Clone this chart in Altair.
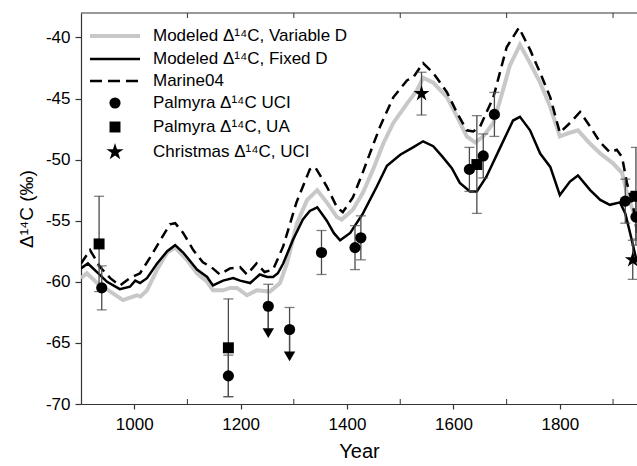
import altair as alt
import pandas as pd

# ---------------- data ----------------
fixed_years = [900, 913, 930, 949, 973, 992, 1002, 1011, 1024, 1043, 1062, 1077, 1092, 1118, 1137,
               1148, 1167, 1186, 1199, 1218, 1236, 1250, 1261, 1270, 1280, 1298, 1317, 1330, 1344,
               1362, 1375, 1387, 1406, 1430, 1456, 1475, 1500, 1524, 1543, 1562, 1580, 1597, 1612,
               1631, 1644, 1662, 1688, 1712, 1725, 1744, 1763, 1782, 1800, 1819, 1834, 1857, 1876,
               1894, 1913, 1923, 1932, 1945]
fixed_vals = [-58.9, -58.5, -59.2, -60.0, -60.6, -60.4, -59.9, -60.1, -59.7, -58.5, -57.5, -57.0, -57.6,
              -59.0, -59.6, -60.3, -59.9, -59.7, -59.9, -60.1, -59.4, -59.6, -59.6, -59.3, -58.5, -56.6,
              -54.9, -54.2, -53.9, -55.0, -56.0, -56.6, -56.0, -54.4, -52.2, -50.5, -49.6, -49.0, -48.5,
              -48.9, -49.8, -50.7, -51.9, -52.6, -52.6, -51.4, -49.0, -46.8, -46.5, -47.6, -49.5, -50.6,
              -52.9, -51.8, -51.3, -52.5, -53.3, -53.7, -53.5, -54.4, -56.0, -58.4]

var_years = [900, 911, 930, 955, 979, 992, 1005, 1012, 1024, 1043, 1062, 1077, 1099, 1118, 1137, 1148,
             1167, 1180, 1193, 1212, 1230, 1255, 1274, 1287, 1306, 1325, 1344, 1362, 1381, 1390, 1411,
             1430, 1449, 1468, 1487, 1513, 1532, 1543, 1562, 1588, 1607, 1625, 1641, 1656, 1675, 1688,
             1706, 1725, 1744, 1763, 1782, 1800, 1819, 1834, 1857, 1876, 1900, 1917, 1928, 1945]
var_vals = [-59.7, -59.3, -60.1, -60.8, -61.5, -61.3, -61.1, -61.2, -60.7, -59.0, -57.6, -57.2, -58.2,
            -59.3, -60.0, -60.7, -60.7, -60.5, -60.5, -61.1, -60.7, -60.8, -60.1, -58.5, -55.2, -53.3,
            -52.5, -53.5, -54.7, -54.9, -54.1, -52.7, -50.8, -48.7, -47.0, -45.4, -44.3, -43.3, -43.7,
            -44.9, -46.5, -48.1, -48.6, -48.1, -47.0, -45.1, -42.3, -40.6, -42.1, -43.7, -45.7, -48.1,
            -47.8, -47.6, -48.7, -49.5, -50.3, -51.1, -53.1, -55.0]

marine_years = [900, 917, 936, 955, 973, 992, 1011, 1030, 1049, 1067, 1077, 1092, 1111, 1129, 1145,
                1161, 1180, 1199, 1212, 1230, 1245, 1261, 1280, 1305, 1330, 1340, 1362, 1381, 1392,
                1411, 1430, 1449, 1462, 1487, 1513, 1524, 1543, 1562, 1588, 1607, 1625, 1637, 1650,
                1675, 1700, 1723, 1744, 1763, 1782, 1800, 1819, 1838, 1857, 1876, 1894, 1907, 1917,
                1926, 1938, 1945]
marine_vals = [-58.5, -57.4, -58.8, -59.7, -60.3, -59.7, -59.3, -58.0, -56.6, -55.3, -55.2, -56.0,
               -57.4, -58.4, -58.8, -59.4, -58.9, -58.8, -59.4, -58.5, -59.2, -59.0, -57.1, -53.5,
               -50.8, -50.6, -52.2, -53.9, -54.3, -53.1, -51.0, -48.8, -47.3, -44.9, -43.5, -43.3,
               -42.1, -42.9, -44.5, -46.2, -47.6, -47.7, -47.3, -44.9, -40.8, -39.2, -41.0, -42.9,
               -44.9, -47.8, -47.0, -46.1, -47.3, -48.6, -49.4, -49.2, -49.8, -51.9, -53.9, -56.0]

uci_years = [939, 1177, 1252, 1292, 1352, 1415, 1426, 1630, 1656, 1677, 1923, 1943]
uci_vals = [-60.5, -67.7, -62.0, -63.9, -57.6, -57.2, -56.4, -50.8, -49.7, -46.3, -53.4, -54.7]
uci_errs = [1.8, 1.7, 1.8, 1.8, 1.8, 1.8, 1.8, 1.8, 1.8, 1.8, 1.8, 1.8]

ua_years = [934, 1177, 1644, 1943]
ua_vals = [-56.9, -65.4, -50.4, -53.0]
ua_errs = [3.9, 4.0, 4.0, 4.0]

xmas_years = [1540, 1937]
xmas_vals = [-44.6, -58.2]
xmas_errs = [1.75, 1.6]

# upper-limit arrows (Palmyra UCI)
limit_years = [1252, 1292]
limit_from = [-62.0, -63.9]
limit_tips = [-64.2, -66.1]

x_label_values = [1000, 1200, 1400, 1600, 1800]
minor_years = [1100, 1300, 1500, 1700, 1900]
y_label_values = [-70, -65, -60, -55, -50, -45, -40]
x_domain = [900, 1945]
y_domain = [-70, -38]

legend_labels = ["Modeled \u0394\u00b9\u2074C, Variable D",
                 "Modeled \u0394\u00b9\u2074C, Fixed D",
                 "Marine04",
                 "Palmyra \u0394\u00b9\u2074C UCI",
                 "Palmyra \u0394\u00b9\u2074C, UA",
                 "Christmas \u0394\u00b9\u2074C, UCI"]

# ---------------- chart ----------------
FONT = "Liberation Sans"
W, H = 556, 391
GREY = "#c8c8c8"
ERR = "#4a4a4a"
# five-pointed star as a custom symbol path (unit box -1..1)
STAR = ("M0,-1L0.225,-0.309L0.951,-0.309L0.363,0.118L0.588,0.809L0,0.382"
        "L-0.588,0.809L-0.363,0.118L-0.951,-0.309L-0.225,-0.309Z")

xscale = alt.Scale(domain=x_domain, nice=False, zero=False)
yscale = alt.Scale(domain=y_domain, nice=False, zero=False)

x_axis = alt.Axis(orient="bottom", values=x_label_values, title="Year", format="d", tickSize=5,
                  labelFontSize=17, titleFontSize=20, labelPadding=7, titlePadding=9,
                  grid=False, domainColor="#333", tickColor="#333", labelColor="black",
                  titleColor="black", titleFontWeight="normal", labelFont=FONT, titleFont=FONT)
y_axis = alt.Axis(orient="left", values=y_label_values, title="\u0394\u00b9\u2074C (\u2030)",
                  tickSize=6, labelExpr="'' + datum.value", labelFontSize=17, titleFontSize=19,
                  labelPadding=5, titlePadding=9, grid=False, domainColor="#333",
                  tickColor="#333", labelColor="black", titleColor="black",
                  titleFontWeight="normal", labelFont=FONT, titleFont=FONT)

X = alt.X("year:Q", scale=xscale, axis=x_axis)
Y = alt.Y("val:Q", scale=yscale, axis=y_axis)


def ycol(name):
    return alt.Y(name, type="quantitative", scale=yscale, axis=y_axis)


def ldf(years, vals):
    return pd.DataFrame({"year": years, "val": vals})


def pdf(years, vals, errs):
    d = pd.DataFrame({"year": years, "val": vals, "err": errs})
    d["lo"] = d["val"] - d["err"]
    d["hi"] = d["val"] + d["err"]
    return d


var_line = alt.Chart(ldf(var_years, var_vals)).mark_line(
    color=GREY, strokeWidth=4, clip=True).encode(x=X, y=Y)
fixed_line = alt.Chart(ldf(fixed_years, fixed_vals)).mark_line(
    color="black", strokeWidth=2.5, clip=True).encode(x=X, y=Y)
marine_line = alt.Chart(ldf(marine_years, marine_vals)).mark_line(
    color="black", strokeWidth=2.5, strokeDash=[10, 6], clip=True).encode(x=X, y=Y)

uci = pdf(uci_years, uci_vals, uci_errs)
ua = pdf(ua_years, ua_vals, ua_errs)
xm = pdf(xmas_years, xmas_vals, xmas_errs)
limits = pd.DataFrame({"year": limit_years, "val": limit_from, "tip": limit_tips})
uci_caps_lo = uci[~uci["year"].isin(limit_years)]


def errbars(d, caps_lo=None):
    r = alt.Chart(d).mark_rule(color=ERR, strokeWidth=1.3, clip=True).encode(
        x=X, y=ycol("lo"), y2="hi:Q")
    top = alt.Chart(d).mark_tick(color=ERR, orient="horizontal", size=10, thickness=1.3,
                                 clip=True).encode(x=X, y=ycol("hi"))
    bot = alt.Chart(d if caps_lo is None else caps_lo).mark_tick(
        color=ERR, orient="horizontal", size=10, thickness=1.3, clip=True).encode(
        x=X, y=ycol("lo"))
    return [r, top, bot]


limit_rule = alt.Chart(limits).mark_rule(color=ERR, strokeWidth=1.3).encode(
    x=X, y=Y, y2="tip:Q")
limit_tri = alt.Chart(limits).mark_point(shape="triangle-down", filled=True, size=130,
                                         color="black", opacity=1).encode(x=X, y=ycol("tip"))

uci_pts = alt.Chart(uci).mark_point(shape="circle", filled=True, size=125, color="black",
                                    opacity=1, clip=True).encode(x=X, y=Y)
ua_pts = alt.Chart(ua).mark_point(shape="square", filled=True, size=120, color="black",
                                  opacity=1, clip=True).encode(x=X, y=Y)
xm_pts = alt.Chart(xm).mark_point(shape=STAR, filled=True, size=280, color="black",
                                  opacity=1, clip=True).encode(x=X, y=Y)

# frame: top line and inner minor ticks
frame_df = pd.DataFrame({"year": [x_domain[0]], "year2": [x_domain[1]]})
top_line = alt.Chart(frame_df).mark_rule(color="#333", strokeWidth=1.2).encode(
    x=X, x2="year2:Q", y=alt.value(0))
minor = pd.DataFrame({"year": minor_years})
minor_top = alt.Chart(minor).mark_rule(color="#333", strokeWidth=1).encode(
    x=X, y=alt.value(0), y2=alt.value(5))
minor_bot = alt.Chart(minor).mark_rule(color="#333", strokeWidth=1).encode(
    x=X, y=alt.value(H), y2=alt.value(H - 5))

# legend (drawn inside the plot, top left)
leg_rows = [23, 46, 68, 90, 114, 139]
leg_df = pd.DataFrame({"label": legend_labels})
leg_df["row"] = leg_rows
one = leg_df.iloc[[0]]
leg = []
leg.append(alt.Chart(one).mark_rule(color=GREY, strokeWidth=4).encode(
    x=alt.value(9), x2=alt.value(59), y=alt.value(leg_rows[0])))
leg.append(alt.Chart(one).mark_rule(color="black", strokeWidth=2.5).encode(
    x=alt.value(9), x2=alt.value(59), y=alt.value(leg_rows[1])))
leg.append(alt.Chart(one).mark_rule(color="black", strokeWidth=2.5, strokeDash=[12, 6]).encode(
    x=alt.value(9), x2=alt.value(59), y=alt.value(leg_rows[2])))
for shp, sz, row in [("circle", 125, 3), ("square", 120, 4), (STAR, 320, 5)]:
    leg.append(alt.Chart(one).mark_point(shape=shp, filled=True, size=sz, color="black",
                                         opacity=1).encode(
        x=alt.value(34), y=alt.value(leg_rows[row])))
leg.append(alt.Chart(leg_df).mark_text(align="left", baseline="middle", fontSize=17,
                                       font=FONT, color="black").encode(
    x=alt.value(72), y=alt.Y("row:Q", scale=None), text="label:N"))

layers = [var_line, marine_line, fixed_line, top_line, minor_top, minor_bot]
layers += leg
layers += errbars(uci, uci_caps_lo) + errbars(ua) + errbars(xm)
layers += [limit_rule, limit_tri, uci_pts, ua_pts, xm_pts]

chart = alt.layer(*layers).properties(
    width=W, height=H,
    padding={"left": 81, "top": 13, "right": 0, "bottom": 62},
    autosize=alt.AutoSizeParams(type="none"),
    background="white",
).configure_view(stroke=None).configure_axis(domainWidth=1.2, tickWidth=1.2)

chart.save("out.html", embed_options={"renderer": "svg", "actions": False})
